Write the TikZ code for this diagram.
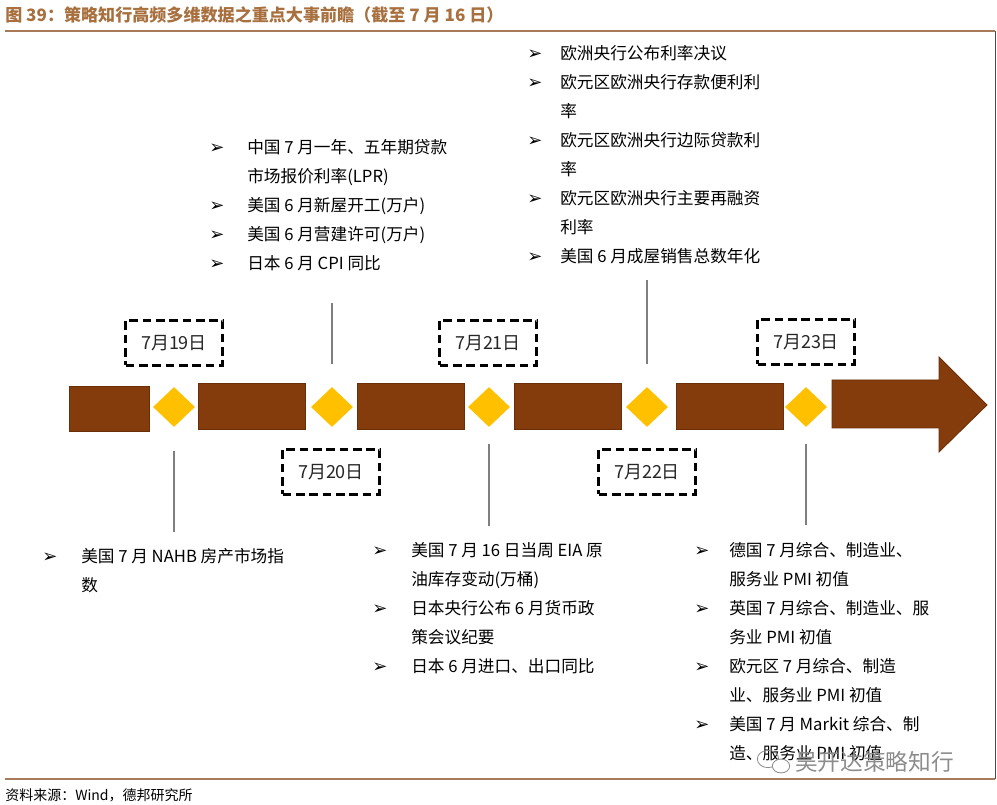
\documentclass[tikz,border=0pt]{standalone}
\usepackage{fontspec}
\usepackage{array}
\setmainfont{Noto Sans CJK SC}
\newfontfamily\symfont{DejaVu Sans}
\usetikzlibrary{
  positioning,
  shapes.geometric,
  calc
}
\definecolor{tlBrown}{HTML}{843C0C}
\definecolor{tlEdge}{HTML}{6A2E08}
\definecolor{tlGold}{HTML}{FFC000}
\definecolor{tlTitle}{HTML}{A8703F}
\definecolor{tlRule}{HTML}{A87A5A}
\definecolor{tlLine}{HTML}{7F7F7F}
\newcommand{\bul}{{\fontsize{13.5}{10}\symfont ➢}}

\begin{document}
\begin{tikzpicture}[x=0.75pt, y=-0.75pt,
  bar/.style={draw=tlEdge, fill=tlBrown, line width=0.6pt, minimum width=80.25pt, minimum height=34.5pt, inner sep=0},
  gem/.style={diamond, fill=tlGold, minimum width=31.5pt, minimum height=30pt, inner sep=0},
  datebox/.style={draw=black, line width=1.8pt, dash pattern=on 6.5pt off 3.5pt, minimum width=72.75pt, minimum height=33.75pt, font=\fontsize{13.5}{15}\selectfont, text=black!85},
  conn/.style={draw=tlLine, line width=0.9pt},
  block/.style={anchor=north west, inner sep=0, font=\fontsize{12.5}{21.75}\selectfont, align=left}]
  \useasboundingbox (0,0) rectangle (997,805);

  % heading and frame
  \node[anchor=west, inner sep=0, text=tlTitle, font=\bfseries\fontsize{12.8}{15}\selectfont] (title) at (5,15)
    {图 39：策略知行高频多维数据之重点大事前瞻（截至 7 月 16 日）};
  \draw[tlRule, line width=1.5pt] (5,31) -- (995,31);
  \draw[black!70, line width=0.75pt] (995,31) -- (995,779);
  \draw[tlRule, line width=1.5pt] (5,779) -- (995,779);
  \node[anchor=west, inner sep=0, font=\fontsize{10.5}{12}\selectfont] (src) at (5,795) {资料来源：Wind，德邦研究所};

  % timeline
  \node[bar, minimum width=60pt, minimum height=33.75pt] (b1) at (109,408.5) {};
  \foreach \i/\x in {2/252, 3/410.5, 4/567.5, 5/729.5}
    \node[bar] (b\i) at (\x,406) {};
  \fill[tlBrown, draw=tlEdge, line width=0.6pt] (832,380) -- (939,380) -- (939,357) -- (987,405)
    -- (939,452) -- (939,428) -- (832,428) -- cycle;
  \foreach \i/\x in {1/174, 2/332, 3/489, 4/647, 5/806}
    \node[gem] (d\i) at (\x,407) {};
  \foreach \i/\x/\y/\dd in {1/174/343/19, 2/331/472/20, 3/488/343/21, 4/647/472/22, 5/806/342/23}
    \node[datebox] (t\i) at (\x,\y) {7月\dd 日};

  % leader lines
  \draw[conn] ($(d1.south)+(0,24)$) -- ++(0,81);
  \draw[conn] ($(d2.north)+(0,-23)$) -- ++(0,-61);
  \draw[conn] ($(d3.south)+(0,17)$) -- ++(0,82);
  \draw[conn] ($(d4.north)+(0,-23)$) -- ++(0,-84);
  \draw[conn] ($(d5.south)+(0,17)$) -- ++(0,81);

  % event lists
  \node[block] (ev20) at (209,133) {\begin{tabular}{@{}p{28.5pt}@{}l@{}}
    \bul & 中国 7 月一年、五年期贷款\\
         & 市场报价利率(LPR)\\
    \bul & 美国 6 月新屋开工(万户)\\
    \bul & 美国 6 月营建许可(万户)\\
    \bul & 日本 6 月 CPI 同比
  \end{tabular}};
  \node[block] (ev22) at (527,39) {\begin{tabular}{@{}p{24.75pt}@{}l@{}}
    \bul & 欧洲央行公布利率决议\\
    \bul & 欧元区欧洲央行存款便利利\\
         & 率\\
    \bul & 欧元区欧洲央行边际贷款利\\
         & 率\\
    \bul & 欧元区欧洲央行主要再融资\\
         & 利率\\
    \bul & 美国 6 月成屋销售总数年化
  \end{tabular}};
  \node[block] (ev19) at (42,542) {\begin{tabular}{@{}p{29.25pt}@{}l@{}}
    \bul & 美国 7 月 NAHB 房产市场指\\
         & 数
  \end{tabular}};
  \node[block] (ev21) at (372,536) {\begin{tabular}{@{}p{29.25pt}@{}l@{}}
    \bul & 美国 7 月 16 日当周 EIA 原\\
         & 油库存变动(万桶)\\
    \bul & 日本央行公布 6 月货币政\\
         & 策会议纪要\\
    \bul & 日本 6 月进口、出口同比
  \end{tabular}};
  \node[block] (ev23) at (694,536) {\begin{tabular}{@{}p{26.25pt}@{}l@{}}
    \bul & 德国 7 月综合、制造业、\\
         & 服务业 PMI 初值\\
    \bul & 英国 7 月综合、制造业、服\\
         & 务业 PMI 初值\\
    \bul & 欧元区 7 月综合、制造\\
         & 业、服务业 PMI 初值\\
    \bul & 美国 7 月 Markit 综合、制\\
         & 造、服务业 PMI 初值
  \end{tabular}};

  % watermark
  \draw[black!45, line width=0.6pt] (768,759) ellipse (8pt and 6.5pt);
  \draw[black!45, line width=0.6pt, fill=white] (781,766) ellipse (6.5pt and 5.2pt);
  \node[anchor=west, inner sep=0, text=black!45, font=\fontsize{17}{20}\selectfont] (mark) at (795,762) {吴开达策略知行};
\end{tikzpicture}
\end{document}
